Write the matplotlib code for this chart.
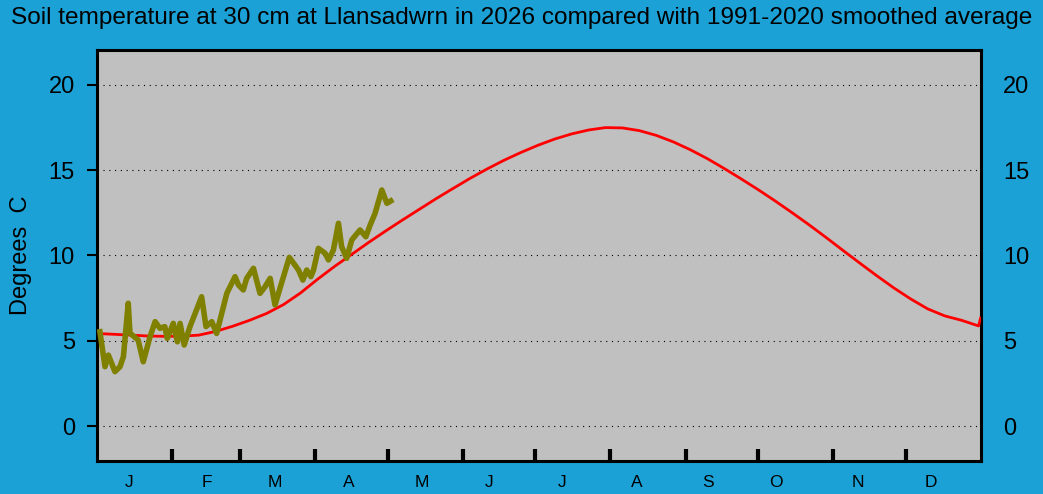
import matplotlib
matplotlib.use("Agg")
import matplotlib.pyplot as plt
import numpy as np

plt.rcParams['font.family'] = ['Liberation Sans', 'DejaVu Sans']

title = "Soil temperature at 30 cm at Llansadwrn in 2026 compared with 1991-2020 smoothed average"
ylabel = "Degrees  C"
month_labels = ["J", "F", "M", "A", "M", "J", "J", "A", "S", "O", "N", "D"]
month_lengths = [31, 28, 31, 30, 31, 30, 31, 31, 30, 31, 30, 31]
yticks = [0, 5, 10, 15, 20]

# 2026 observed (day of year, deg C)
obs_day = [1.2, 3.3, 4.7, 7.4, 9.5, 10.9, 12.9, 13.6, 17.0, 19.1, 21.9, 24.0, 26.0, 28.0,
           29.0, 31.5, 33.2, 34.3, 36.0, 38.4, 43.2, 45.0, 47.4, 49.4, 53.6, 57.0, 58.4,
           60.4, 61.8, 64.6, 67.3, 69.4, 71.5, 73.5, 77.0, 79.4, 83.2, 85.0, 86.6, 88.3,
           89.4, 91.4, 94.2, 95.6, 97.6, 99.7, 101.0, 103.1, 105.2, 108.6, 111.0, 112.8,
           114.8, 117.6, 119.7, 121.3]
obs_val = [5.53, 3.48, 4.16, 3.19, 3.48, 4.07, 7.20, 5.45, 5.04, 3.77, 5.24, 6.12, 5.73, 5.83,
           5.14, 6.02, 4.94, 6.02, 4.75, 5.83, 7.58, 5.83, 6.12, 5.43, 7.78, 8.76, 8.27,
           7.98, 8.66, 9.25, 7.78, 8.17, 8.66, 7.10, 8.76, 9.89, 9.15, 8.56, 9.15, 8.76,
           9.15, 10.42, 10.13, 9.74, 10.32, 11.89, 10.52, 9.84, 10.91, 11.50, 11.10, 11.79,
           12.47, 13.84, 13.06, 13.20]

# 1991-2020 smoothed average
avg_day = [1, 7, 14, 21, 28, 35, 42, 49, 56, 63, 70, 77, 84, 91, 98, 105, 112, 119, 126,
           133, 140, 147, 154, 161, 168, 175, 182, 189, 196, 203, 210, 217, 224, 231, 238,
           245, 252, 259, 266, 273, 280, 287, 294, 301, 308, 315, 322, 329, 336, 343, 350,
           357, 364, 365]
avg_val = [5.42, 5.38, 5.33, 5.28, 5.26, 5.27, 5.33, 5.55, 5.85, 6.20, 6.60, 7.12, 7.80, 8.60,
           9.35, 10.05, 10.75, 11.42, 12.07, 12.70, 13.33, 13.93, 14.52, 15.07, 15.58, 16.04,
           16.46, 16.83, 17.13, 17.36, 17.50, 17.48, 17.32, 17.04, 16.66, 16.20, 15.68, 15.10,
           14.49, 13.86, 13.20, 12.51, 11.80, 11.06, 10.30, 9.55, 8.81, 8.10, 7.45, 6.87,
           6.46, 6.20, 5.87, 6.41]

# label anchor positions (day of year)
label_days = [13.2, 45.4, 73.5, 104.0, 134.0, 161.9, 192.0, 223.0, 252.4, 280.5, 314.0, 344.3]

bg = '#1ba1d6'
fig = plt.figure(figsize=(10.43, 4.94), dpi=100, facecolor=bg)
ax = fig.add_axes([97/1043, 33/494, (981-97)/1043, (461-50)/494])
ax.set_facecolor('#c0c0c0')

ax.plot(avg_day, avg_val, color='#ff0000', lw=2.0, zorder=3, solid_capstyle='butt',
        solid_joinstyle='round')
ax.plot(obs_day, obs_val, color='#808000', lw=4.0, zorder=4, solid_joinstyle='round')

ax.set_xlim(0, 365)
ax.set_ylim(-2.05, 22.05)

for y in yticks:
    ax.axhline(y, xmin=6/884, xmax=1, color='black', lw=0.8, linestyle=(0, (1, 4.2)), zorder=1)

starts = np.cumsum([0] + month_lengths)
ax.set_xticks(starts[1:-1])
ax.set_xticklabels([])
ax.set_xticks(label_days, minor=True)
ax.set_xticklabels(month_labels, minor=True, fontsize=12.5)
ax.tick_params(axis='x', which='major', direction='in', length=9, width=3, color='black')
ax.tick_params(axis='x', which='minor', length=0, pad=10)

ax.set_yticks(yticks)
ax.set_yticklabels([str(v) for v in yticks], fontsize=17)
ax.tick_params(axis='y', which='major', direction='out', length=7, width=1.5,
               left=True, right=False, labelleft=True, labelright=True, pad=9)

for s in ax.spines.values():
    s.set_linewidth(2.2)
    s.set_color('black')

ax.set_ylabel(ylabel, fontsize=17, labelpad=12)
fig.text(0.5, 1 - 18/494, title, ha='center', va='center', fontsize=17.6)

fig.savefig('out.png', dpi=100, facecolor=bg)
